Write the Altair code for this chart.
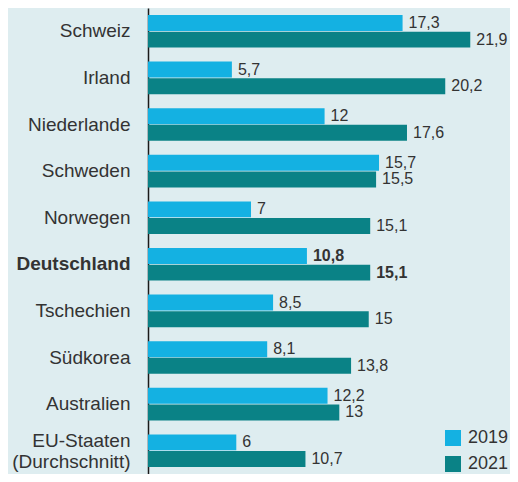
import altair as alt
import pandas as pd

countries = ["Schweiz", "Irland", "Niederlande", "Schweden", "Norwegen",
             "Deutschland", "Tschechien", "Südkorea", "Australien",
             "EU-Staaten (Durchschnitt)"]
v2019 = [17.3, 5.7, 12, 15.7, 7, 10.8, 8.5, 8.1, 12.2, 6]
v2021 = [21.9, 20.2, 17.6, 15.5, 15.1, 15.1, 15, 13.8, 13, 10.7]
years = ["2019", "2021"]
colors = ["#14b1e2", "#0a8286"]
highlight = "Deutschland"
two_line = "EU-Staaten (Durchschnitt)"

rows = []
for c, a, b in zip(countries, v2019, v2021):
    rows.append({"country": c, "year": "2019", "value": a})
    rows.append({"country": c, "year": "2021", "value": b})
df = pd.DataFrame(rows)

FONT = "Liberation Sans"
TXT = "#333333"
W, H = 362, 466

y_enc = alt.Y(
    "country:N", sort=countries,
    scale=alt.Scale(paddingInner=0.3, paddingOuter=0.15),
    axis=alt.Axis(
        title=None, ticks=False, domainColor="#1a1a1a", domainWidth=1.5,
        labelPadding=18, labelFontSize=19, labelColor=TXT, labelFont=FONT,
        labelFontWeight=alt.condition(f"datum.value == '{highlight}'",
                                      alt.value("bold"), alt.value("normal")),
        labelOffset=alt.condition(f"datum.value == '{two_line}'",
                                  alt.value(-10), alt.value(0)),
        labelExpr=f"datum.value == '{two_line}' ? ['EU-Staaten', '(Durchschnitt)'] : datum.value",
        labelLineHeight=21, labelLimit=200,
    ),
)
x_enc = alt.X("value:Q", scale=alt.Scale(domain=[0, 24.6], nice=False), axis=None)
yoff = alt.YOffset("year:N", sort=years, scale=alt.Scale(paddingInner=0.04))

base = alt.Chart(df)

bars = base.mark_bar().encode(
    x=x_enc, y=y_enc, yOffset=yoff,
    color=alt.Color(
        "year:N",
        scale=alt.Scale(domain=years, range=colors),
        legend=alt.Legend(
            title=None, orient="none", legendX=296, legendY=421,
            symbolType="square", symbolSize=256, symbolStrokeWidth=0,
            symbolOpacity=1, labelFontSize=18, labelFont=FONT,
            labelColor=TXT, labelOffset=6, rowPadding=8, padding=0,
        ),
    ),
)

tbase = base.transform_calculate(
    label="replace(toString(datum.value), '.', ',')"
)
text_normal = tbase.transform_filter(alt.datum.country != highlight).mark_text(
    align="left", baseline="middle", dx=6, fontSize=16, font=FONT, color=TXT
).encode(x=x_enc, y=y_enc, yOffset=yoff, text="label:N")
text_bold = tbase.transform_filter(alt.datum.country == highlight).mark_text(
    align="left", baseline="middle", dx=6, fontSize=16, font=FONT, color=TXT,
    fontWeight="bold"
).encode(x=x_enc, y=y_enc, yOffset=yoff, text="label:N")

chart = alt.layer(bars, text_normal, text_bold).properties(
    width=W, height=H,
    background="#deedf0",
    padding={"left": 140, "top": 0, "right": 0, "bottom": 0},
    autosize=alt.AutoSizeParams(type="none"),
).configure_view(strokeWidth=0)

chart.save("out.html", embed_options={"renderer": "svg", "actions": False})
